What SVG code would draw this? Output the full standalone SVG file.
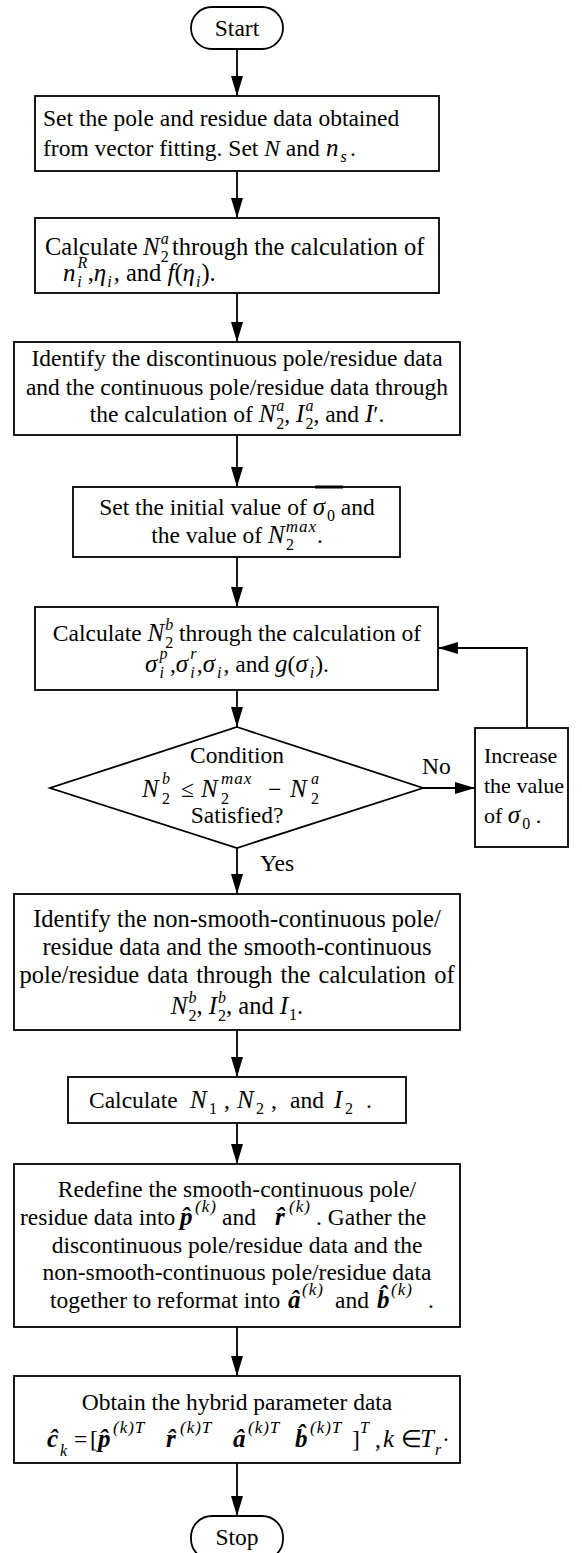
<svg xmlns="http://www.w3.org/2000/svg" width="582" height="1553" viewBox="0 0 582 1553">
<defs>
<style>
.t{font-family:"Liberation Serif","Times New Roman",serif;font-size:23.5px;fill:#000}
.t24{font-size:24.5px}
.t22{font-size:22px}
.i{font-style:italic}
.v{font-style:italic;font-size:25px}
.bv{font-weight:bold;font-style:italic;font-size:25px}
.s{font-size:16px}
.sp{font-size:17px;font-style:italic;letter-spacing:1px}
.box{fill:#fff;stroke:#000;stroke-width:1.8}
.ln{fill:none;stroke:#000;stroke-width:1.8}
</style>
<marker id="ah" markerUnits="userSpaceOnUse" markerWidth="20" markerHeight="12" refX="20" refY="6" orient="auto">
<path d="M0,0 L20,6 L0,12 z" fill="#000"/>
</marker>
</defs>
<rect width="582" height="1553" fill="#fff"/>

<g id="connectors">
<line class="ln" x1="237" y1="49" x2="237" y2="96" marker-end="url(#ah)"/>
<line class="ln" x1="237" y1="171" x2="237" y2="218" marker-end="url(#ah)"/>
<line class="ln" x1="237" y1="293" x2="237" y2="342" marker-end="url(#ah)"/>
<line class="ln" x1="237" y1="435" x2="237" y2="487" marker-end="url(#ah)"/>
<line class="ln" x1="237" y1="557" x2="237" y2="607" marker-end="url(#ah)"/>
<line class="ln" x1="237" y1="690" x2="237" y2="727" marker-end="url(#ah)"/>
<line class="ln" x1="423" y1="788" x2="475" y2="788" marker-end="url(#ah)"/>
<path class="ln" d="M527,728 V648 H438" marker-end="url(#ah)"/>
<line class="ln" x1="237" y1="848" x2="237" y2="894" marker-end="url(#ah)"/>
<line class="ln" x1="237" y1="1030" x2="237" y2="1077" marker-end="url(#ah)"/>
<line class="ln" x1="237" y1="1123" x2="237" y2="1164" marker-end="url(#ah)"/>
<line class="ln" x1="237" y1="1327" x2="237" y2="1376" marker-end="url(#ah)"/>
<line class="ln" x1="237" y1="1463" x2="237" y2="1516" marker-end="url(#ah)"/>
<text class="t" x="422" y="774">No</text>
<text class="t" x="260" y="871">Yes</text>
</g>

<g id="start">
<rect class="box" x="191" y="7" width="92" height="42" rx="21"/>
<text class="t" x="237" y="36" text-anchor="middle">Start</text>
</g>

<g id="box1">
<rect class="box" x="35" y="96" width="404" height="75"/>
<text class="t" x="43" y="126">Set the pole and residue data obtained</text>
<text class="t" x="43" y="156">from vector fitting. Set <tspan class="i">N</tspan> and<tspan class="v" x="326">n</tspan><tspan class="s i" dx="2" dy="6">s</tspan><tspan dy="-6" x="350">.</tspan></text>
</g>

<g id="box2">
<rect class="box" x="35" y="218" width="404" height="75"/>
<text class="t t24" x="45" y="255">Calculate <tspan class="v" x="143">N</tspan><tspan class="s i" dx="1" dy="-11">a</tspan><tspan class="s" dx="-8" dy="18">2</tspan><tspan dy="-7" x="172">through the calculation of</tspan></text>
<text class="t t24" x="63" y="281"><tspan class="v">n</tspan><tspan class="s i" dx="2" dy="-13">R</tspan><tspan class="s i" dx="-10" dy="19">i</tspan><tspan dy="-6" dx="6">,</tspan><tspan class="v">η</tspan><tspan class="s i" dx="1" dy="6">i</tspan><tspan dy="-6" dx="2">, and </tspan><tspan class="v">f</tspan>(<tspan class="v">η</tspan><tspan class="s i" dx="1" dy="6">i</tspan><tspan dy="-6" dx="1">).</tspan></text>
</g>

<g id="box3">
<rect class="box" x="14" y="342" width="446" height="93"/>
<text class="t" x="237" y="366" text-anchor="middle">Identify the discontinuous pole/residue data</text>
<text class="t" x="237" y="395" text-anchor="middle">and the continuous pole/residue data through</text>
<text class="t" x="237" y="422" text-anchor="middle">the calculation of <tspan class="v">N</tspan><tspan class="s i" dx="1" dy="-11">a</tspan><tspan class="s" dx="-8" dy="18">2</tspan><tspan dy="-7">, </tspan><tspan class="v">I</tspan><tspan class="s i" dx="1" dy="-11">a</tspan><tspan class="s" dx="-8" dy="18">2</tspan><tspan dy="-7">, and </tspan><tspan class="v">I</tspan>′.</text>
</g>

<g id="box4">
<rect class="box" x="73" y="487" width="327" height="70"/>
<line x1="315" y1="487" x2="343" y2="487" stroke="#000" stroke-width="3"/>
<text class="t" x="237" y="515" text-anchor="middle">Set the initial value of  <tspan class="v">σ</tspan><tspan class="s" dx="2" dy="6">0</tspan><tspan dy="-6">  and</tspan></text>
<text class="t" x="237" y="543" text-anchor="middle">the value of <tspan class="v">N</tspan><tspan class="sp" dx="1" dy="-11">max</tspan><tspan class="s" dx="-31" dy="18">2</tspan><tspan dx="23" dy="-7">.</tspan></text>
</g>

<g id="box5">
<rect class="box" x="35" y="607" width="403" height="83"/>
<text class="t" x="237" y="641" text-anchor="middle">Calculate <tspan class="v">N</tspan><tspan class="s i" dx="1" dy="-11">b</tspan><tspan class="s" dx="-8" dy="18">2</tspan><tspan dy="-7">  through the calculation of</tspan></text>
<text class="t" x="237" y="672" text-anchor="middle"><tspan class="v">σ</tspan><tspan class="s i" dx="2" dy="-13">p</tspan><tspan class="s i" dx="-8" dy="19">i</tspan><tspan dy="-6" dx="6">,</tspan><tspan class="v">σ</tspan><tspan class="s i" dx="2" dy="-13">r</tspan><tspan class="s i" dx="-6" dy="19">i</tspan><tspan dy="-6" dx="2">,</tspan><tspan class="v">σ</tspan><tspan class="s i" dx="2" dy="6">i</tspan><tspan dy="-6" dx="2">, and </tspan><tspan class="v">g</tspan>(<tspan class="v">σ</tspan><tspan class="s i" dx="2" dy="6">i</tspan><tspan dy="-6" dx="1">).</tspan></text>
</g>

<g id="decision">
<polygon class="box" points="237,727 423,788 237,848 50,788"/>
<text class="t" x="237" y="763" text-anchor="middle">Condition</text>
<text class="t" y="797"><tspan class="v" x="142">N</tspan><tspan class="s i" x="162" y="784">b</tspan><tspan class="s" x="162" y="804">2</tspan><tspan x="181" y="797">≤</tspan><tspan class="v" x="201">N</tspan><tspan class="sp" x="221" y="784">max</tspan><tspan class="s" x="221" y="804">2</tspan><tspan x="268" y="797">−</tspan><tspan class="v" x="290">N</tspan><tspan class="s i" x="311" y="784">a</tspan><tspan class="s" x="311" y="804">2</tspan></text>
<text class="t" x="237" y="823" text-anchor="middle">Satisfied?</text>
</g>

<g id="increase">
<rect class="box" x="475" y="728" width="93" height="119"/>
<text class="t t22" x="484" y="763">Increase</text>
<text class="t t22" x="484" y="793">the value</text>
<text class="t t22" x="484" y="823">of <tspan class="v">σ</tspan><tspan class="s" dx="2" dy="6">0</tspan><tspan dy="-6"> .</tspan></text>
</g>

<g id="box6">
<rect class="box" x="14" y="894" width="446" height="136"/>
<text class="t t24" x="237" y="927" text-anchor="middle">Identify the non-smooth-continuous pole/</text>
<text class="t t24" x="237" y="955" text-anchor="middle">residue data and the smooth-continuous</text>
<text class="t t24" x="237" y="983" text-anchor="middle" word-spacing="2">pole/residue data through the calculation of</text>
<text class="t t24" x="237" y="1014" text-anchor="middle"><tspan class="v">N</tspan><tspan class="s i" dx="1" dy="-11">b</tspan><tspan class="s" dx="-8" dy="18">2</tspan><tspan dy="-7">,  </tspan><tspan class="v">I</tspan><tspan class="s i" dx="1" dy="-11">b</tspan><tspan class="s" dx="-8" dy="18">2</tspan><tspan dy="-7">, and </tspan><tspan class="v">I</tspan><tspan class="s" dx="1" dy="6">1</tspan><tspan dy="-6">.</tspan></text>
</g>

<g id="box7">
<rect class="box" x="68" y="1077" width="338" height="46"/>
<text class="t" y="1108"><tspan x="89">Calculate</tspan><tspan class="v" x="190">N</tspan><tspan class="s" x="209" y="1114">1</tspan><tspan x="224" y="1108">,</tspan><tspan class="v" x="237">N</tspan><tspan class="s" x="256" y="1114">2</tspan><tspan x="271" y="1108">,</tspan><tspan x="290">and</tspan><tspan class="v" x="334">I</tspan><tspan class="s" x="345" y="1114">2</tspan><tspan x="366" y="1108">.</tspan></text>
</g>

<g id="box8">
<rect class="box" x="14" y="1164" width="446" height="163"/>
<text class="t" x="237" y="1197" text-anchor="middle">Redefine the smooth-continuous pole/</text>
<text class="t" y="1225"><tspan x="20">residue data into</tspan><tspan class="bv" x="180">p̂</tspan><tspan class="sp" x="195" y="1212">(k)</tspan><tspan x="222" y="1225">and</tspan><tspan class="bv" x="275">r̂</tspan><tspan class="sp" x="289" y="1212">(k)</tspan><tspan x="316" y="1225">. Gather the</tspan></text>
<text class="t" x="237" y="1253" text-anchor="middle">discontinuous pole/residue data and the</text>
<text class="t" x="237" y="1280" text-anchor="middle">non-smooth-continuous pole/residue data</text>
<text class="t" y="1308"><tspan x="50">together to reformat into</tspan><tspan class="bv" x="288">â</tspan><tspan class="sp" x="302" y="1295">(k)</tspan><tspan x="335" y="1308">and</tspan><tspan class="bv" x="377">b̂</tspan><tspan class="sp" x="391" y="1295">(k)</tspan><tspan x="428" y="1308">.</tspan></text>
</g>

<g id="box9">
<rect class="box" x="14" y="1376" width="446" height="87"/>
<text class="t" x="237" y="1410" text-anchor="middle">Obtain the hybrid parameter data</text>
<text class="t" y="1447"><tspan class="bv" x="47">ĉ</tspan><tspan class="s i" x="60" y="1456">k</tspan><tspan x="74" y="1447">=</tspan><tspan x="90">[</tspan><tspan class="bv" x="98">p̂</tspan><tspan class="sp" x="113" y="1433">(k)T</tspan><tspan class="bv" x="166" y="1447">r̂</tspan><tspan class="sp" x="180" y="1433">(k)T</tspan><tspan class="bv" x="233" y="1447">â</tspan><tspan class="sp" x="248" y="1433">(k)T</tspan><tspan class="bv" x="295" y="1447">b̂</tspan><tspan class="sp" x="310" y="1433">(k)T</tspan><tspan x="352" y="1447">]</tspan><tspan class="s i" x="360" y="1433">T</tspan><tspan x="375" y="1447">,</tspan><tspan class="v" x="383">k</tspan><tspan x="401">∈</tspan><tspan class="v" x="420">T</tspan><tspan class="s i" x="435" y="1455">r</tspan><tspan x="442" y="1447">·</tspan></text>
</g>

<g id="stop">
<rect class="box" x="191" y="1516" width="92" height="44" rx="21"/>
<text class="t" x="237" y="1545" text-anchor="middle">Stop</text>
</g>
</svg>
